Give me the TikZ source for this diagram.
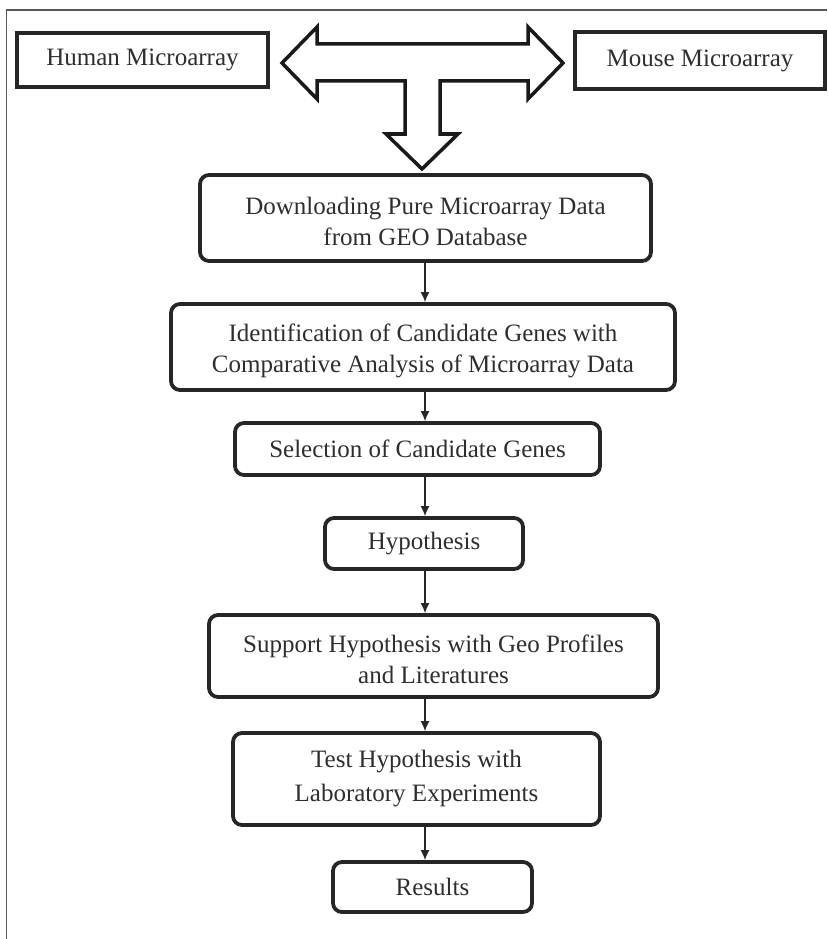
\documentclass[tikz,border=0pt]{standalone}
\usepackage{fontspec}
\setmainfont{Liberation Serif}
\usetikzlibrary{arrows.meta}
\newcommand\tstrut{\rule{0pt}{25pt}}
\begin{document}
\begin{tikzpicture}[x=1pt,y=-1pt,
  basebox/.style={draw=black!85, line width=3.8pt, text=black!82,
    font=\fontsize{25}{31}\selectfont, align=center, inner sep=0pt},
  plainbox/.style={basebox},
  flowbox/.style={basebox, rounded corners=9pt},
  conn/.style={-{Latex[length=10pt,width=9pt]}, line width=1.4pt, draw=black!85},
  frameline/.style={draw=black!65, line width=1.5pt},
  bigarrow/.style={draw=black!90, line width=3.5pt, line join=miter, fill=white}
]
\useasboundingbox (0,0) rectangle (827,939);
\draw[frameline] (6.7,939) -- (6.7,10) -- (827,10);

% source boxes
\node[plainbox, minimum width=251pt, minimum height=54pt] (human) at (142.5,60) {Human Microarray};
\node[plainbox, minimum width=250pt, minimum height=57pt] (mouse) at (700,60.5) {Mouse Microarray};

% T-shaped block arrow
\draw[bigarrow] (282,63) -- (317,27) -- (317,44) -- (528,44) -- (528,27) -- (563,63)
  -- (528,99) -- (528,81) -- (440,81) -- (440,134) -- (458,134) -- (422,169)
  -- (386,134) -- (405,134) -- (405,81) -- (317,81) -- (317,99) -- cycle;

% flow boxes
\node[flowbox, minimum width=451pt, minimum height=86pt] (dl) at (425.5,218) {\tstrut Downloading Pure Microarray Data\\from GEO Database};
\node[flowbox, minimum width=504pt, minimum height=86pt] (ident) at (423,347) {\tstrut Identification of Candidate Genes with\\Comparative Analysis of Microarray Data};
\node[flowbox, minimum width=365pt, minimum height=52pt] (sel) at (417.5,449) {Selection of Candidate Genes};
\node[flowbox, minimum width=198pt, minimum height=51pt] (hyp) at (424,543.5) {Hypothesis};
\node[flowbox, minimum width=449pt, minimum height=82pt] (sup) at (433.5,656) {\tstrut Support Hypothesis with Geo Profiles\\and Literatures};
\node[flowbox, minimum width=367pt, minimum height=92pt] (test) at (416.5,779) {Test Hypothesis with\\[3pt]Laboratory Experiments};
\node[flowbox, minimum width=199pt, minimum height=50pt] (res) at (432.5,887) {Results};

\coordinate (ax) at (425,0);
\draw[conn] (dl.south -| ax) -- (ident.north -| ax);
\draw[conn] (ident.south -| ax) -- (sel.north -| ax);
\draw[conn] (sel.south -| ax) -- (hyp.north -| ax);
\draw[conn] (hyp.south -| ax) -- (sup.north -| ax);
\draw[conn] (sup.south -| ax) -- (test.north -| ax);
\draw[conn] (test.south -| ax) -- (res.north -| ax);
\end{tikzpicture}
\end{document}
